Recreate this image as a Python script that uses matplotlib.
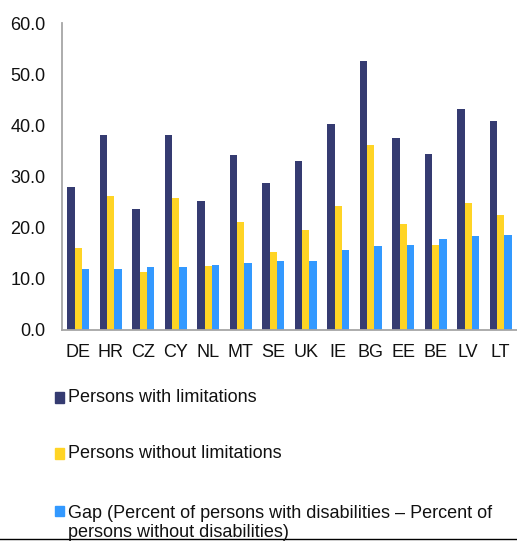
import numpy as np
import matplotlib
matplotlib.use("Agg")
import matplotlib.pyplot as plt
from matplotlib.patches import Rectangle
from matplotlib.lines import Line2D

## data
countries = ["DE", "HR", "CZ", "CY", "NL", "MT", "SE", "UK", "IE", "BG", "EE", "BE", "LV", "LT"]
with_lim = [27.9, 38.1, 23.7, 38.1, 25.3, 34.2, 28.8, 33.0, 40.2, 52.6, 37.5, 34.4, 43.2, 40.9]
without_lim = [16.0, 26.2, 11.3, 25.8, 12.6, 21.1, 15.3, 19.5, 24.3, 36.1, 20.8, 16.6, 24.9, 22.4]
gap = [11.9, 11.9, 12.3, 12.3, 12.8, 13.1, 13.4, 13.5, 15.7, 16.4, 16.6, 17.7, 18.3, 18.5]

labels = ["Persons with limitations",
          "Persons without limitations",
          "Gap (Percent of persons with disabilities \u2013 Percent of\npersons without disabilities)"]
colors = ["#353B71", "#FFD425", "#3399FF"]

plt.rcParams["font.family"] = ["Liberation Sans", "DejaVu Sans"]
plt.rcParams["font.size"] = 13

W, H = 517, 541
fig = plt.figure(figsize=(W / 100, H / 100), dpi=100)
ax = fig.add_axes([62 / W, (H - 330) / H, 455 / W, 307 / H])

x = np.arange(len(countries))
bw = 0.227
for k, (vals, c) in enumerate(zip([with_lim, without_lim, gap], colors)):
    ax.bar(x + (k - 1) * bw, vals, width=bw, color=c, edgecolor="none")

ax.set_xlim(-0.5, len(countries) - 0.5)
ax.set_ylim(0, 60)
ax.set_yticks(np.arange(0, 61, 10))
ax.set_yticklabels(["%.1f" % v for v in np.arange(0, 61, 10)])
ax.set_xticks(x)
ax.set_xticklabels(countries)
ax.tick_params(axis="both", length=0, labelsize=13, colors="#111111")
ax.tick_params(axis="y", pad=12)
ax.tick_params(axis="x", pad=10)
for s in ["top", "right"]:
    ax.spines[s].set_visible(False)
for s in ["left", "bottom"]:
    ax.spines[s].set_color("#A6A6A6")
    ax.spines[s].set_linewidth(1.3)

## legend, drawn by hand so the square sits on the first text line
baselines = [402.5, 458.5, 516]
line_px = 21  # distance between wrapped lines
for lab, c, yb in zip(labels, colors, baselines):
    fig.patches.append(Rectangle((55 / W, 1 - yb / H), 8.5 / W, 10.5 / H,
                                 transform=fig.transFigure, color=c))
    # baseline alignment uses the last line of a wrapped label
    last = yb + line_px * lab.count("\n")
    fig.text(68 / W, 1 - last / H, lab, ha="left", va="baseline",
             fontsize=13, color="#111111", linespacing=1.15)

fig.add_artist(Line2D([0, 1], [1.7 / H, 1.7 / H], color="black", lw=1.0))

fig.savefig("out.png", dpi=100)
